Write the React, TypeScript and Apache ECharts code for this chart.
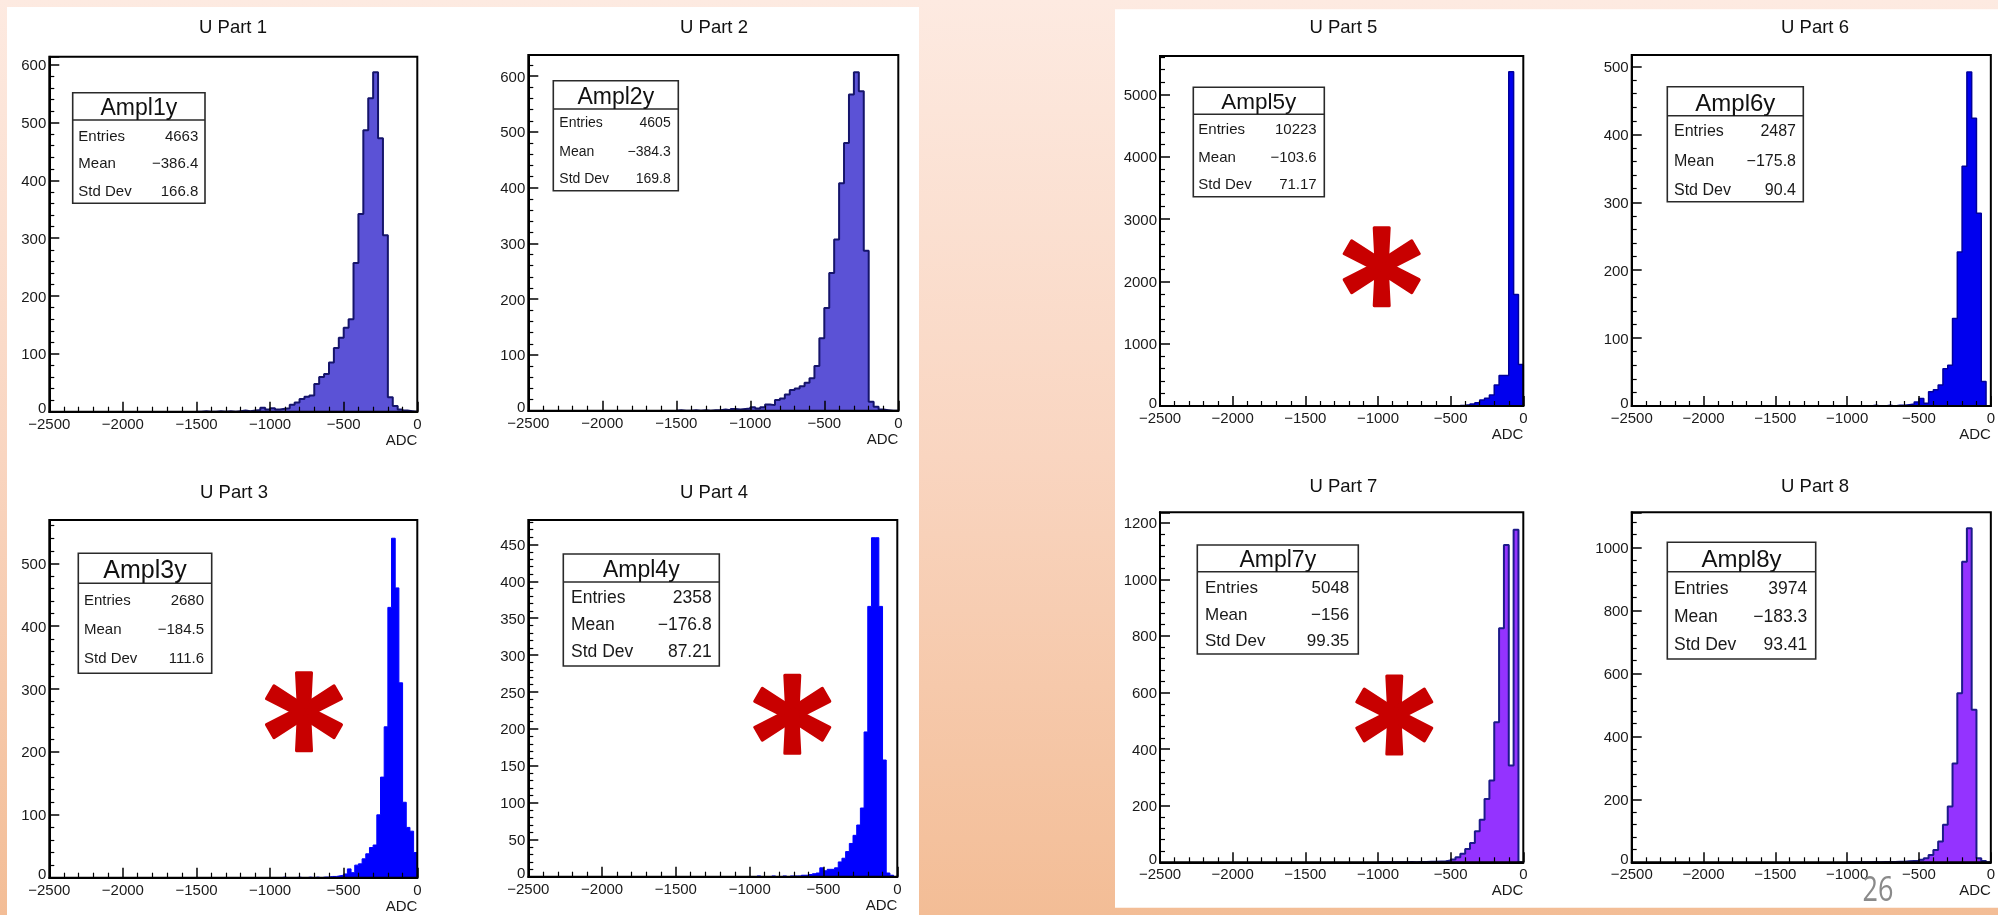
import React, { useEffect, useRef } from 'react';
import * as echarts from 'echarts';

// ---------- data ----------
const TITLES = ['U Part 1', 'U Part 2', 'U Part 3', 'U Part 4', 'U Part 5', 'U Part 6', 'U Part 7', 'U Part 8'];
const HIST_NAMES = ['Ampl1y', 'Ampl2y', 'Ampl3y', 'Ampl4y', 'Ampl5y', 'Ampl6y', 'Ampl7y', 'Ampl8y'];
const ENTRIES = [4663, 4605, 2680, 2358, 10223, 2487, 5048, 3974];
const MEANS = [-386.4, -384.3, -184.5, -176.8, -103.6, -175.8, -156, -183.3];
const STD_DEVS = ['166.8', '169.8', '111.6', '87.21', '71.17', '90.4', '99.35', '93.41'];
const X_MIN = -2500;
const X_MAX = 0;
const X_STEP = 500;
const X_TITLE = 'ADC';
const Y_MAX = [614, 638, 569, 483, 5617, 517, 1237, 1111];
const Y_STEP = [100, 100, 100, 50, 1000, 100, 200, 200];
const BIN_WIDTH = [2500 / 75, 2500 / 75, 25, 25, 2500 / 75, 2500 / 75, 2500 / 75, 2500 / 75];
const FIRST_EDGE = [-1500, -1500, -1000, -1000, -1000, -1000, -1000, -1000];

// bin contents, left to right, ending at ADC = 0
const COUNTS_1 = [0, 1, 0, 0, 1, 0, 1, 0, 1, 2, 1, 2, 3, 7, 4, 6, 4, 5, 6, 12, 16, 22, 26, 28, 48, 60, 65, 85, 110, 128, 145, 160, 257, 342, 487, 542, 587, 473, 305, 25, 10, 4, 2, 1, 0];
const COUNTS_2 = [1, 0, 0, 1, 0, 1, 0, 1, 1, 2, 1, 3, 2, 3, 4, 6, 4, 6, 11, 10, 19, 22, 29, 37, 40, 44, 50, 58, 80, 130, 184, 247, 307, 408, 480, 567, 607, 573, 287, 16, 7, 2, 1, 0, 0];
const COUNTS_3 = [0, 0, 0, 1, 0, 0, 0, 1, 0, 0, 1, 0, 1, 0, 1, 1, 2, 2, 3, 4, 6, 14, 8, 20, 22, 30, 38, 48, 52, 100, 160, 240, 430, 540, 461, 310, 120, 80, 74, 40];
const COUNTS_4 = [0, 0, 1, 0, 0, 0, 1, 0, 0, 1, 0, 1, 1, 1, 2, 2, 3, 4, 5, 12, 8, 10, 10, 12, 20, 25, 34, 45, 56, 70, 93, 196, 366, 459, 459, 366, 158, 5, 2, 0];
const COUNTS_5 = [0, 0, 0, 0, 0, 0, 0, 0, 0, 1, 0, 1, 1, 2, 3, 5, 8, 12, 20, 32, 53, 96, 123, 176, 337, 490, 490, 5364, 1791, 668];
const COUNTS_6 = [0, 0, 0, 0, 0, 1, 0, 0, 1, 0, 1, 1, 2, 3, 6, 11, 4, 21, 24, 31, 55, 60, 129, 227, 353, 492, 424, 284, 36, 0];
const COUNTS_7 = [0, 0, 0, 0, 0, 0, 1, 0, 1, 1, 2, 2, 3, 4, 6, 10, 18, 30, 47, 68, 110, 150, 224, 289, 495, 827, 1121, 342, 1175, 0];
const COUNTS_8 = [0, 0, 0, 0, 0, 1, 0, 1, 1, 1, 2, 2, 3, 4, 5, 8, 13, 23, 39, 66, 119, 177, 314, 537, 954, 1060, 484, 13, 4, 0];
const COUNTS = [COUNTS_1, COUNTS_2, COUNTS_3, COUNTS_4, COUNTS_5, COUNTS_6, COUNTS_7, COUNTS_8];
const PAGE_NUMBER = '26';

// ---------- styles / layout ----------
const FILL = ['#5b52d6', '#5b52d6', '#0000ff', '#0000ff', '#0000ee', '#0000ee', '#9433ff', '#9433ff'];
const EDGE = ['#15146b', '#15146b', '#0000ff', '#0000ff', '#00009a', '#00009a', '#1d1a8a', '#1d1a8a'];
const EDGE_W = [2, 2, 1, 1, 1.5, 1.5, 2, 2];

const LAYOUT = [
  { grid: [49.3, 56.7, 368, 355], title: [233, 26], box: [72.7, 92.7, 132.3, 110.6], sep: 120, rows: [135, 162, 190], tl: 78.3, tr: 198.3, rowFont: 15, headFont: 23, star: null },
  { grid: [528.3, 55, 370, 355.7], title: [714, 26], box: [553.3, 80.7, 125, 110], sep: 109, rows: [121.7, 150.7, 178.3], tl: 559.3, tr: 670.7, rowFont: 14, headFont: 23, star: null },
  { grid: [49.3, 520, 368, 357.7], title: [234, 491.7], box: [78.3, 553.3, 133.4, 120], sep: 583.3, rows: [599, 628.3, 657.3], tl: 84, tr: 204, rowFont: 15, headFont: 25, star: [304, 711.7] },
  { grid: [528.3, 520, 369, 356.7], title: [714, 491.7], box: [563.3, 554, 156, 112], sep: 582, rows: [597.3, 624.3, 651], tl: 571, tr: 711.7, rowFont: 17.5, headFont: 23, star: [792.3, 714.3] },
  { grid: [1160, 56, 363.3, 350], title: [1343.3, 26.7], box: [1193.3, 87.3, 131, 109.4], sep: 114.3, rows: [128.3, 156, 183.3], tl: 1198.3, tr: 1316.7, rowFont: 15, headFont: 22.5, star: [1381.7, 266.7] },
  { grid: [1631.7, 55, 363.3, 351], title: [1815, 26.7], box: [1667.3, 86.7, 136, 115], sep: 115.7, rows: [130, 160.7, 189.3], tl: 1674, tr: 1796, rowFont: 16, headFont: 24, star: null },
  { grid: [1160, 512.3, 363.3, 350], title: [1343.3, 485], box: [1197.3, 545, 161, 109], sep: 571.7, rows: [587.7, 614, 640], tl: 1205, tr: 1349.3, rowFont: 17, headFont: 23, star: [1394.3, 715] },
  { grid: [1631.7, 512.3, 363.3, 350], title: [1815, 485], box: [1667.3, 542.3, 148.4, 116.7], sep: 571.7, rows: [587.7, 616, 644], tl: 1674, tr: 1807.3, rowFont: 17.5, headFont: 24, star: null },
];

const FONT = '"Liberation Sans", Arial, Helvetica, sans-serif';
const TEXT_COLOR = '#1a1a1a';

function fmt(v: number): string {
  return String(v).replace('-', '\u2212');
}

function histogramPoints(firstEdge: number, binWidth: number, counts: number[]): number[][] {
  const pts: number[][] = [[firstEdge, 0]];
  for (let i = 0; i < counts.length; i++) {
    pts.push([+(firstEdge + i * binWidth).toFixed(4), counts[i]]);
  }
  const end = +(firstEdge + counts.length * binWidth).toFixed(4);
  pts.push([end, counts[counts.length - 1]]);
  pts.push([end, 0]);
  return pts;
}

function text(x: number, y: number, str: string, size: number, align: string, opts: any = {}) {
  return {
    type: 'text',
    x,
    y,
    z: opts.z ?? 30,
    silent: true,
    scaleX: opts.scaleX ?? 1,
    scaleY: opts.scaleY ?? 1,
    style: {
      text: str,
      font: `${opts.weight ?? 'normal'} ${size}px ${opts.family ?? FONT}`,
      fill: opts.color ?? TEXT_COLOR,
      textAlign: align,
      align,
      textVerticalAlign: 'middle',
      verticalAlign: 'middle',
    },
  };
}

function starArms(cx: number, cy: number) {
  const arms: any[] = [];
  const L = 39;
  const w0 = 11;
  const w1 = 15;
  [-90, -30, 30, 90, 150, 210].forEach((deg) => {
    const a = (deg * Math.PI) / 180;
    const dx = Math.cos(a);
    const dy = Math.sin(a);
    const px = -dy;
    const py = dx;
    arms.push({
      type: 'polygon',
      z: 40,
      silent: true,
      shape: {
        points: [
          [cx + (px * w0) / 2, cy + (py * w0) / 2],
          [cx + dx * L + (px * w1) / 2, cy + dy * L + (py * w1) / 2],
          [cx + dx * L - (px * w1) / 2, cy + dy * L - (py * w1) / 2],
          [cx - (px * w0) / 2, cy - (py * w0) / 2],
        ],
      },
      style: { fill: '#c80000', stroke: '#c80000', lineWidth: 3, lineJoin: 'round' },
    });
  });
  return arms;
}

function buildOption() {
  const elements: any[] = [];
  elements.push({
    type: 'rect',
    z: -20,
    silent: true,
    shape: { x: 0, y: 0, width: 1998, height: 915 },
    style: {
      fill: {
        type: 'linear', x: 0, y: 0, x2: 0, y2: 1,
        colorStops: [
          { offset: 0, color: '#fdeae1' },
          { offset: 0.5, color: '#f9d5c0' },
          { offset: 1, color: '#f3bd96' },
        ],
      },
    },
  });
  elements.push({ type: 'rect', z: -19, silent: true, shape: { x: 7, y: 7, width: 912, height: 908 }, style: { fill: '#ffffff' } });
  elements.push({ type: 'rect', z: -19, silent: true, shape: { x: 1115, y: 9.3, width: 883, height: 898.4 }, style: { fill: '#ffffff' } });

  LAYOUT.forEach((L, i) => {
    elements.push(text(L.title[0], L.title[1], TITLES[i], 18.5, 'center', { color: '#111' }));
    const [bx, by, bw, bh] = L.box;
    elements.push({
      type: 'rect', z: 25, silent: true,
      shape: { x: bx, y: by, width: bw, height: bh },
      style: { fill: '#ffffff', stroke: '#2a2a2a', lineWidth: 1.6 },
    });
    elements.push({
      type: 'line', z: 26, silent: true,
      shape: { x1: bx, y1: L.sep, x2: bx + bw, y2: L.sep },
      style: { stroke: '#2a2a2a', lineWidth: 1.6 },
    });
    elements.push(text(bx + bw / 2, (by + L.sep) / 2 + 1, HIST_NAMES[i], L.headFont, 'center', { color: '#111' }));
    const labels = ['Entries', 'Mean', 'Std Dev'];
    const values = [String(ENTRIES[i]), fmt(MEANS[i]), STD_DEVS[i]];
    labels.forEach((lab, r) => {
      elements.push(text(L.tl, L.rows[r], lab, L.rowFont, 'left'));
      elements.push(text(L.tr, L.rows[r], values[r], L.rowFont, 'right'));
    });
    if (L.star) elements.push(...starArms(L.star[0], L.star[1]));
  });

  elements.push(text(1878, 888, PAGE_NUMBER, 27, 'center', { color: '#8a8a8a', family: '"Open Sans", sans-serif', scaleY: 1.25 }));

  const axisCommon = {
    z: 5,
    axisLine: { show: true, onZero: false, lineStyle: { color: '#000', width: 2 } },
    axisTick: { show: true, inside: true, length: 10, lineStyle: { color: '#000', width: 1.5 } },
    minorTick: { show: true, splitNumber: 5, length: 5, lineStyle: { color: '#000', width: 1.2 } },
    splitLine: { show: false },
    minorSplitLine: { show: false },
  };

  const grid = LAYOUT.map((L) => ({
    left: L.grid[0], top: L.grid[1], width: L.grid[2], height: L.grid[3],
    show: true, borderColor: '#000', borderWidth: 2, backgroundColor: 'transparent', z: 4,
  }));

  const xAxis = LAYOUT.map((_, i) => ({
    type: 'value', gridIndex: i, min: X_MIN, max: X_MAX, interval: X_STEP,
    ...axisCommon,
    axisLabel: {
      formatter: (v: number) => fmt(v), fontSize: 15, fontFamily: FONT, color: TEXT_COLOR, margin: 4,
      showMinLabel: true, showMaxLabel: true,
    },
    name: X_TITLE, nameLocation: 'end', nameGap: 0,
    nameTextStyle: { fontSize: 15, fontFamily: FONT, color: TEXT_COLOR, align: 'right', verticalAlign: 'top', padding: [20, 0, 0, 0] },
  }));

  const yAxis = LAYOUT.map((_, i) => ({
    type: 'value', gridIndex: i, min: 0, max: Y_MAX[i], interval: Y_STEP[i],
    ...axisCommon,
    axisLabel: {
      formatter: (v: number) => (v === 0 ? '{zero|0}' : fmt(v)),
      fontSize: 15, fontFamily: FONT, color: TEXT_COLOR, margin: 3,
      showMaxLabel: false,
      rich: {
        zero: { fontSize: 15, fontFamily: FONT, color: TEXT_COLOR, padding: [0, 0, 8, 0] },
      },
    },
  }));

  const series = COUNTS.map((counts, i) => ({
    type: 'line', name: HIST_NAMES[i], xAxisIndex: i, yAxisIndex: i,
    data: histogramPoints(FIRST_EDGE[i], BIN_WIDTH[i], counts),
    step: 'end', symbol: 'none', showSymbol: false, silent: true, z: 2,
    lineStyle: { color: EDGE[i], width: EDGE_W[i] },
    areaStyle: { color: FILL[i], opacity: 1 },
  }));

  return {
    animation: false,
    backgroundColor: 'transparent',
    grid, xAxis, yAxis, series,
    graphic: { elements },
  };
}

export default function App() {
  const ref = useRef<HTMLDivElement>(null);
  useEffect(() => {
    document.body.style.margin = '0';
    if (!ref.current) return;
    const chart = echarts.init(ref.current, undefined, { renderer: 'svg' });
    chart.setOption(buildOption() as any);
    return () => chart.dispose();
  }, []);
  return <div ref={ref} style={{ position: 'fixed', left: 0, top: 0, width: 1998, height: 915 }} />;
}
